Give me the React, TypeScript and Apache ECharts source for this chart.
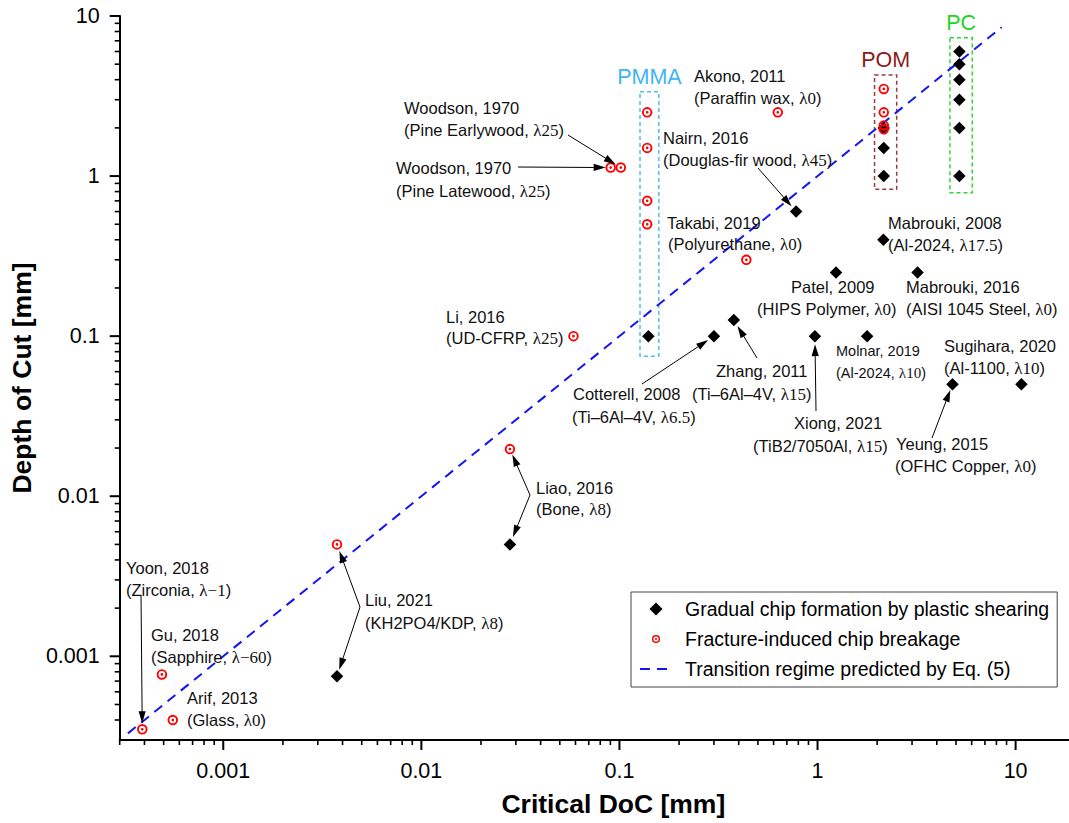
import React, { useEffect, useRef } from "react";
import * as echarts from "echarts";

// ---- axis ranges & ticks ----
const X_MIN = 0.0003;
const X_MAX = 18.6;
const Y_MIN = 0.0003;
const Y_MAX = 10;

const xMajorTicks = [0.001, 0.01, 0.1, 1, 10];
const yMajorTicks = [0.001, 0.01, 0.1, 1, 10];
const xMinorTicks = [
  0.0003, 0.0004, 0.0005, 0.0006, 0.0007, 0.0008, 0.0009,
  0.002, 0.003, 0.004, 0.005, 0.006, 0.007, 0.008, 0.009,
  0.02, 0.03, 0.04, 0.05, 0.06, 0.07, 0.08, 0.09,
  0.2, 0.3, 0.4, 0.5, 0.6, 0.7, 0.8, 0.9,
  2, 3, 4, 5, 6, 7, 8, 9,
];
const yMinorTicks = [
  0.0004, 0.0005, 0.0006, 0.0007, 0.0008, 0.0009,
  0.002, 0.003, 0.004, 0.005, 0.006, 0.007, 0.008, 0.009,
  0.02, 0.03, 0.04, 0.05, 0.06, 0.07, 0.08, 0.09,
  0.2, 0.3, 0.4, 0.5, 0.6, 0.7, 0.8, 0.9,
  2, 3, 4, 5, 6, 7, 8, 9,
];

// ---- series names ----
const NAME_GRADUAL = "Gradual chip formation by plastic shearing";
const NAME_FRACTURE = "Fracture-induced chip breakage";
const NAME_TRANSITION = "Transition regime predicted by Eq. (5)";

// ---- data: [critical DoC, depth of cut] ----
const gradualPoints: [number, number][] = [
  [5.2, 6], [5.2, 5], [5.2, 4], [5.2, 3], [5.2, 2], [5.2, 1], // 0-5 PC
  [2.16, 2], [2.16, 1.5], [2.16, 1], // 6-8 POM
  [0.78, 0.6], // 9 Nairn 2016
  [2.15, 0.4], // 10 Mabrouki 2008
  [1.24, 0.25], // 11 Patel 2009
  [3.2, 0.25], // 12 Mabrouki 2016
  [0.97, 0.1], // 13 Xiong 2021
  [1.78, 0.1], // 14 Molnar 2019
  [4.8, 0.05], // 15 Yeung 2015
  [10.7, 0.05], // 16 Sugihara 2020
  [0.14, 0.1], // 17 PMMA
  [0.3, 0.1], // 18 Cotterell 2008
  [0.378, 0.126], // 19 Zhang 2011
  [0.028, 0.005], // 20 Liao 2016
  [0.00375, 0.00075], // 21 Liu 2021
];

const fracturePoints: [number, number][] = [
  [0.00039, 0.00035], // 0 Yoon 2018
  [0.00049, 0.00077], // 1 Gu 2018
  [0.000556, 0.0004], // 2 Arif 2013
  [0.00375, 0.005], // 3 Liu 2021
  [0.028, 0.0197], // 4 Liao 2016
  [0.0586, 0.1], // 5 Li 2016
  [0.0903, 1.13], // 6 Woodson latewood
  [0.1016, 1.13], // 7 Woodson earlywood
  [0.138, 2.5], [0.138, 1.5], [0.138, 0.7], [0.138, 0.5], // 8-11 PMMA
  [0.63, 2.5], // 12 Akono 2011
  [0.437, 0.3], // 13 Takabi 2019
  [2.16, 3.5], [2.16, 2.5], [2.16, 2.07], [2.16, 1.96], // 14-17 POM
];

const transitionLine: [number, number][] = [
  [0.00033, 0.00033],
  [8.5, 8.5],
];

// material group boxes: [corner1, corner2]
const pmmaBox: [number, number][] = [[0.127, 3.36], [0.158, 0.075]];
const pomBox: [number, number][] = [[1.94, 4.28], [2.51, 0.826]];
const pcBox: [number, number][] = [[4.66, 7.31], [6.04, 0.787]];

// ---- annotation texts (pixel layout) ----
type Ann = { x: number; y: number; t: string; s?: number };
const annotations: Ann[] = [
  { x: 694, y: 76, t: "Akono, 2011" }, { x: 694, y: 98, t: "(Paraffin wax, {l|λ0})" },
  { x: 404, y: 108, t: "Woodson, 1970" }, { x: 404, y: 130, t: "(Pine Earlywood, {l|λ25})" },
  { x: 396, y: 168, t: "Woodson, 1970" }, { x: 396, y: 191, t: "(Pine Latewood, {l|λ25})" },
  { x: 663, y: 138, t: "Nairn, 2016" }, { x: 663, y: 160, t: "(Douglas-fir wood, {l|λ45})" },
  { x: 667, y: 223, t: "Takabi, 2019" }, { x: 668, y: 244, t: "(Polyurethane, {l|λ0})" },
  { x: 888, y: 223, t: "Mabrouki, 2008" }, { x: 888, y: 245, t: "(Al-2024, {l|λ17.5})" },
  { x: 791, y: 287, t: "Patel, 2009" }, { x: 757, y: 309, t: "(HIPS Polymer, {l|λ0})" },
  { x: 906, y: 287, t: "Mabrouki, 2016" }, { x: 906, y: 309, t: "(AISI 1045 Steel, {l|λ0})" },
  { x: 836, y: 351, t: "Molnar, 2019", s: 14.5 }, { x: 836, y: 373, t: "(Al-2024, {l|λ10})", s: 14.5 },
  { x: 944, y: 346, t: "Sugihara, 2020" }, { x: 944, y: 368, t: "(Al-1100, {l|λ10})" },
  { x: 794, y: 423, t: "Xiong, 2021" }, { x: 753, y: 446, t: "(TiB2/7050Al, {l|λ15})" },
  { x: 896, y: 444, t: "Yeung, 2015" }, { x: 895, y: 466, t: "(OFHC Copper, {l|λ0})" },
  { x: 716, y: 371, t: "Zhang, 2011" }, { x: 692, y: 394, t: "(Ti–6Al–4V, {l|λ15})" },
  { x: 573, y: 394, t: "Cotterell, 2008" }, { x: 572, y: 417, t: "(Ti–6Al–4V, {l|λ6.5})" },
  { x: 446, y: 317, t: "Li, 2016" }, { x: 446, y: 338, t: "(UD-CFRP, {l|λ25})" },
  { x: 536, y: 488, t: "Liao, 2016" }, { x: 536, y: 509, t: "(Bone, {l|λ8})" },
  { x: 365, y: 600, t: "Liu, 2021" }, { x: 365, y: 623, t: "(KH2PO4/KDP, {l|λ8})" },
  { x: 126, y: 568, t: "Yoon, 2018" }, { x: 126, y: 590, t: "(Zirconia, {l|λ−1})" },
  { x: 151, y: 635, t: "Gu, 2018" }, { x: 151, y: 657, t: "(Sapphire, {l|λ−60})" },
  { x: 187, y: 698, t: "Arif, 2013" }, { x: 187, y: 720, t: "(Glass, {l|λ0})" },
];

// arrows: start (pixel) -> target data point
type Arrow = { from: [number, number]; to: [number, number]; gap: number };
const arrows: Arrow[] = [
  { from: [568, 135], to: fracturePoints[7], gap: 6 },
  { from: [518, 167], to: fracturePoints[6], gap: 5 },
  { from: [758, 168], to: gradualPoints[9], gap: 7 },
  { from: [816, 411], to: gradualPoints[13], gap: 8 },
  { from: [932, 438], to: gradualPoints[15], gap: 6 },
  { from: [757, 358], to: gradualPoints[19], gap: 7 },
  { from: [642, 384], to: gradualPoints[18], gap: 7 },
  { from: [530, 495], to: fracturePoints[4], gap: 6 },
  { from: [530, 495], to: gradualPoints[20], gap: 8 },
  { from: [360, 607], to: fracturePoints[3], gap: 7 },
  { from: [360, 607], to: gradualPoints[21], gap: 7 },
  { from: [141, 595], to: fracturePoints[0], gap: 6 },
];

const RING =
  "path://M0,-5A5,5,0,1,1,0,5A5,5,0,1,1,0,-5ZM0,-3.2A3.2,3.2,0,1,0,0,3.2A3.2,3.2,0,1,0,0,-3.2ZM0,-1.3A1.3,1.3,0,1,1,0,1.3A1.3,1.3,0,1,1,0,-1.3Z";
const RING_LEGEND =
  "path://M-8,-8M8,8M0,-5A5,5,0,1,1,0,5A5,5,0,1,1,0,-5ZM0,-3.2A3.2,3.2,0,1,0,0,3.2A3.2,3.2,0,1,0,0,-3.2ZM0,-1.3A1.3,1.3,0,1,1,0,1.3A1.3,1.3,0,1,1,0,-1.3Z";
const DIAMOND_LEGEND = "path://M0,-6.5L6.5,0L0,6.5L-6.5,0Z";

const FONT = "Liberation Sans, Arial, sans-serif";
const SERIF = "Liberation Serif, Times New Roman, serif";

const fmt = (v: number) => String(Number(v.toPrecision(3)));

export default function App() {
  const ref = useRef<HTMLDivElement>(null);
  useEffect(() => {
    if (!ref.current) return;
    const chart = echarts.init(ref.current, undefined, { renderer: "svg" });

    const tickData: number[][] = [
      ...xMajorTicks.map((v) => [v, Y_MIN, 0, 10]),
      ...xMinorTicks.map((v) => [v, Y_MIN, 0, 5]),
      ...yMajorTicks.map((v) => [X_MIN, v, 1, 10]),
      ...yMinorTicks.map((v) => [X_MIN, v, 1, 5]),
    ];

    const boxItem = (box: [number, number][], name: string, border: string, textColor: string) => [
      {
        name,
        coord: box[0],
        itemStyle: { color: "rgba(0,0,0,0)", borderColor: border, borderWidth: 1.5, borderType: [4, 3] },
        label: {
          show: true,
          position: "top",
          distance: 3,
          color: textColor,
          fontSize: 21.5,
          fontFamily: FONT,
        },
      },
      { coord: box[1] },
    ];

    const option: any = {
      animation: false,
      backgroundColor: "#ffffff",
      grid: { left: 119, right: 0, top: 16, bottom: 83, containLabel: false },
      xAxis: {
        type: "log",
        logBase: 10,
        min: X_MIN,
        max: X_MAX,
        name: "Critical DoC [mm]",
        nameLocation: "middle",
        nameGap: 50,
        nameTextStyle: { fontSize: 26.5, fontWeight: "bold", fontFamily: FONT, color: "#000", padding: [0, 0, 0, 38] },
        axisLine: { show: true, onZero: false, lineStyle: { color: "#000", width: 2 } },
        axisTick: { show: false },
        splitLine: { show: false },
        axisLabel: {
          showMinLabel: false,
          showMaxLabel: false,
          margin: 20,
          fontSize: 21.5,
          fontFamily: FONT,
          color: "#000",
          formatter: fmt,
        },
      },
      yAxis: {
        type: "log",
        logBase: 10,
        min: Y_MIN,
        max: Y_MAX,
        name: "Depth of Cut [mm]",
        nameLocation: "middle",
        nameGap: 82,
        nameTextStyle: { fontSize: 26.5, fontWeight: "bold", fontFamily: FONT, color: "#000" },
        axisLine: { show: true, onZero: false, lineStyle: { color: "#000", width: 2 } },
        axisTick: { show: false },
        splitLine: { show: false },
        axisLabel: {
          showMinLabel: false,
          margin: 20,
          fontSize: 21.5,
          fontFamily: FONT,
          color: "#000",
          formatter: fmt,
        },
      },
      legend: {
        orient: "vertical",
        left: 631,
        top: 592,
        padding: [7, 8, 8, 8],
        itemGap: 10,
        itemWidth: 32,
        itemHeight: 13,
        borderColor: "#444",
        borderWidth: 1,
        backgroundColor: "#fff",
        selectedMode: false,
        textStyle: { fontSize: 19.5, fontFamily: FONT, color: "#000", lineHeight: 20, padding: [0, 0, 0, 8] },
        data: [
          { name: NAME_GRADUAL, icon: DIAMOND_LEGEND, itemStyle: { color: "#000", opacity: 1 } },
          { name: NAME_FRACTURE, icon: RING_LEGEND, itemStyle: { color: "#ff0000", opacity: 1 } },
          { name: NAME_TRANSITION, itemStyle: { color: "rgba(0,0,0,0)", opacity: 0, borderWidth: 0 } },
        ],
      },
      series: [
        {
          name: "ticks",
          type: "custom",
          silent: true,
          clip: false,
          z: 10,
          data: tickData,
          renderItem: (_p: any, api: any) => {
            const pt = api.coord([api.value(0), api.value(1)]);
            const isY = api.value(2) === 1;
            const len = api.value(3);
            const shape = isY
              ? { x1: pt[0] - len, y1: pt[1], x2: pt[0], y2: pt[1] }
              : { x1: pt[0], y1: pt[1], x2: pt[0], y2: pt[1] + len };
            return { type: "line", shape, style: { stroke: "#000", lineWidth: len > 6 ? 2 : 1.6 } };
          },
        },
        {
          name: NAME_TRANSITION,
          type: "line",
          silent: true,
          z: 2,
          symbol: "none",
          data: transitionLine,
          lineStyle: { color: "#1414f0", width: 2, type: [10, 7] },
          itemStyle: { color: "#1414f0" },
          markArea: {
            silent: true,
            data: [
              boxItem(pmmaBox, "PMMA", "#55bbee", "#3eb3f5"),
              boxItem(pomBox, "POM", "#9c3a3a", "#8b1a1a"),
              boxItem(pcBox, "PC", "#33d633", "#22d422"),
            ],
          },
        },
        {
          name: NAME_GRADUAL,
          type: "scatter",
          silent: true,
          z: 3,
          symbol: "diamond",
          symbolSize: 12.5,
          itemStyle: { color: "#000", opacity: 1 },
          data: gradualPoints,
        },
        {
          name: NAME_FRACTURE,
          type: "scatter",
          silent: true,
          z: 4,
          symbol: RING,
          symbolSize: 10.5,
          symbolKeepAspect: true,
          itemStyle: { color: "#ff0000", opacity: 1 },
          data: fracturePoints,
        },
      ],
    };

    chart.setOption(option);

    const graphics: any[] = [];
    annotations.forEach((a) => {
      const size = a.s ?? 16.5;
      graphics.push({
        type: "text",
        x: a.x,
        y: a.y,
        silent: true,
        z: 20,
        style: {
          text: a.t,
          fontSize: size,
          fontFamily: FONT,
          fill: "#111",
          align: "left",
          verticalAlign: "middle",
          rich: { l: { fontFamily: SERIF, fontSize: size + 0.5, fill: "#111" } },
        },
      });
    });

    arrows.forEach((ar) => {
      const p = chart.convertToPixel({ gridIndex: 0 }, ar.to) as number[];
      const dx = p[0] - ar.from[0];
      const dy = p[1] - ar.from[1];
      const L = Math.hypot(dx, dy) || 1;
      const ux = dx / L;
      const uy = dy / L;
      const tip = [p[0] - ux * ar.gap, p[1] - uy * ar.gap];
      const headLen = 12;
      const halfW = 3.6;
      const base = [tip[0] - ux * headLen, tip[1] - uy * headLen];
      graphics.push({
        type: "line",
        silent: true,
        z: 20,
        shape: { x1: ar.from[0], y1: ar.from[1], x2: base[0] + ux * 2, y2: base[1] + uy * 2 },
        style: { stroke: "#000", lineWidth: 1 },
      });
      graphics.push({
        type: "polygon",
        silent: true,
        z: 20,
        shape: {
          points: [
            tip,
            [base[0] - uy * halfW, base[1] + ux * halfW],
            [base[0] + uy * halfW, base[1] - ux * halfW],
          ],
        },
        style: { fill: "#000" },
      });
    });

    chart.setOption({ graphic: graphics });

    return () => chart.dispose();
  }, []);

  return (
    <div
      ref={ref}
      style={{ position: "absolute", left: 0, top: 0, width: 1069, height: 823, background: "#fff" }}
    />
  );
}
